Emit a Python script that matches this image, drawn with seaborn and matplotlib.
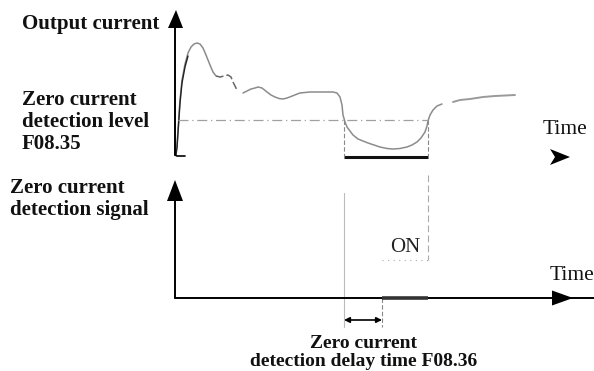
import matplotlib
matplotlib.use("Agg")
import matplotlib.pyplot as plt
import pandas as pd
import seaborn as sns

sns.set_style("white")
plt.rcParams["font.family"] = ["Liberation Serif", "DejaVu Serif"]

# Output current trace, drawn in strokes (time, current on a pixel-like grid, y grows downward)
start_time = [176, 177, 178, 180, 182, 185, 188, 191, 194, 197, 200, 203, 206, 210, 213, 216]
start_current = [152, 145, 130, 100, 80, 64, 53, 47, 44, 43, 44, 48, 55, 65, 72, 76]
shoulder_time = [216, 220, 224, 228, 231, 233, 235, 237]
shoulder_current = [76, 77, 76, 75, 77, 82, 86, 90]
main_time = [243, 247, 251, 255, 258, 262, 267, 271, 275, 279, 283, 287, 291, 296, 300, 305,
             310, 317, 325, 333, 337, 340, 342, 343, 345, 347, 350, 353, 358, 363, 368, 374,
             380, 387, 393, 400, 407, 412, 417, 421, 425, 427, 428, 430, 433, 437, 442]
main_current = [93, 91, 89, 88, 87, 88, 92, 95, 97, 98.5, 99, 98, 96.5, 94.5, 93, 92.5,
                92, 92, 92, 92, 93, 97, 105, 115, 122, 127, 131, 135, 139, 141, 143, 145,
                147, 148.5, 149, 148.5, 147, 145, 142, 138, 132, 126, 121, 115, 110, 106, 104]
tail_time = [453, 460, 470, 483, 495, 505, 515]
tail_current = [102, 100, 99, 97, 96, 95.5, 95]

# Zero-current detection level and the interval where the current stays below it
zero_level = 120
below_start, below_end = 344, 428
delay_end = 382          # detection output switches on after the delay time
signal_on_level = 260
signal_off_level = 298

level_labels = ["Zero current", "detection level", "F08.35"]
signal_labels = ["Zero current", "detection signal"]
delay_labels = ["Zero current", "detection delay time F08.36"]

fig = plt.figure(figsize=(5.94, 3.71), dpi=100)
ax = fig.add_axes([0, 0, 1, 1])
ax.set_xlim(0, 594)
ax.set_ylim(371, 0)
ax.axis("off")

curve_color = "#8c8c8c"

def stroke(t, c, **kw):
    df = pd.DataFrame({"t": t, "c": c})
    sns.lineplot(data=df, x="t", y="c", ax=ax, sort=False, estimator=None, legend=False, **kw)

stroke(start_time, start_current, color=curve_color, lw=1.1)
stroke(shoulder_time, shoulder_current, color="#666666", lw=1.1, linestyle=(0, (5, 2)))
stroke(main_time, main_current, color=curve_color, lw=1.1)
stroke(tail_time, tail_current, color="#9a9a9a", lw=1.4)
# darker leading edge of the first rise
stroke(start_time[:7], [v + 3 for v in start_current[:7]], color="#222222", lw=1.0)

# detection level
ax.plot([178, below_end], [zero_level, zero_level], color="#a0a0a0", lw=0.9,
        linestyle=(0, (8, 3, 1, 3)))
# current below level
ax.plot([below_start, below_end], [157, 157], color="#111111", lw=2.2, solid_capstyle="butt")
ax.plot([below_start, below_start], [zero_level, 157], color="#888888", lw=0.8, linestyle=(0, (4, 2)))
ax.plot([below_end, below_end], [zero_level, 157], color="#888888", lw=0.8, linestyle=(0, (4, 2)))
ax.plot([below_end, below_end], [175, signal_on_level], color="#aaaaaa", lw=0.8, linestyle=(0, (6, 3)))
ax.plot([below_start, below_start], [193, 327], color="#bbbbbb", lw=0.8)
ax.plot([delay_end, below_end], [signal_on_level, signal_on_level], color="#aaaaaa", lw=0.8,
        linestyle=(0, (1, 4)))
ax.plot([delay_end, delay_end], [signal_off_level, 327], color="#888888", lw=0.8, linestyle=(0, (4, 2)))

# axes of the upper chart
ax.plot([175, 175], [155, 26], color="black", lw=1.4)
ax.plot([175, 177, 185], [155, 156, 156], color="black", lw=1.2)
ax.fill([168, 176, 183], [28, 10, 28], color="black", lw=0)
# small time arrow
ax.fill([550, 570, 550, 555], [149, 157, 165, 157], color="black", lw=0)

# axes of the lower chart
ax.plot([175, 175], [298, 200], color="black", lw=1.4)
ax.fill([167, 175, 183], [201, 180, 201], color="black", lw=0)
ax.plot([175, 594], [298, 298], color="black", lw=1.4)
ax.fill([552, 573, 552], [290.5, 298, 305.5], color="black", lw=0)
ax.plot([delay_end, below_end], [298, 298], color="#333333", lw=2.6, solid_capstyle="butt")

# delay time span
ax.annotate("", xy=(delay_end, 320), xytext=(below_start, 320),
            arrowprops=dict(arrowstyle="<|-|>", color="black", lw=1.2, mutation_scale=8,
                            shrinkA=0, shrinkB=0))

bold = dict(fontweight="bold", fontsize=15, color="#111111")
ax.text(22, 24, "Output current", ha="left", va="center", **bold)
for i, s in enumerate(level_labels):
    ax.text(22, 100 + 22 * i, s, ha="left", va="center", **bold)
for i, s in enumerate(signal_labels):
    ax.text(10, 188 + 22 * i, s, ha="left", va="center", **bold)
for i, s in enumerate(delay_labels):
    ax.text(364, 343 + 19 * i, s, ha="center", va="center", fontweight="bold", fontsize=14,
            color="#111111")

ax.text(543, 129, "Time", ha="left", va="center", fontsize=15.5, color="#111111")
ax.text(550, 275, "Time", ha="left", va="center", fontsize=15.5, color="#111111")
ax.text(405, 248, "ON", ha="center", va="center", fontsize=15, color="#222222")

fig.savefig("out.png", dpi=100)
